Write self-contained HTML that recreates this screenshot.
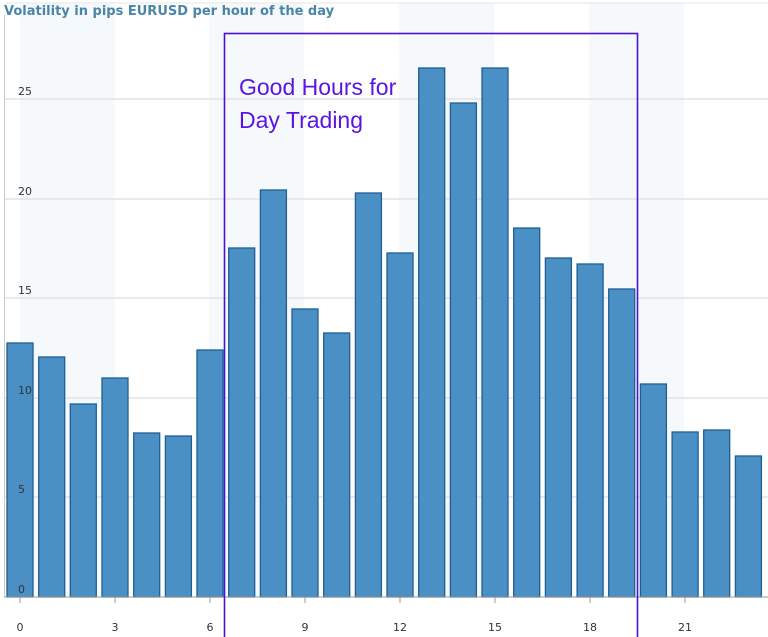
<!DOCTYPE html><html><head><style>body{margin:0;background:#fff}</style></head><body>
<svg width="768" height="637" xmlns="http://www.w3.org/2000/svg" style="display:block">
<rect width="768" height="637" fill="#fff"/>
<g fill="#f6f9fc">
<rect x="20" y="3" width="95" height="594"/>
<rect x="209" y="3" width="95" height="594"/>
<rect x="399" y="3" width="95" height="594"/>
<rect x="589" y="3" width="95" height="594"/>
</g>
<line x1="4" y1="3" x2="768" y2="3" stroke="#e6e6e6"/>
<g stroke="#e3e3e3" stroke-width="1.5">
<line x1="4" y1="99" x2="768" y2="99"/><line x1="4" y1="199" x2="768" y2="199"/>
<line x1="4" y1="298" x2="768" y2="298"/><line x1="4" y1="398" x2="768" y2="398"/>
<line x1="4" y1="497" x2="768" y2="497"/>
</g>
<line x1="4.5" y1="15" x2="4.5" y2="597" stroke="#ccc"/>
<g fill="#4a90c4" stroke="#1f5f96" stroke-width="1.3">
<rect x="7" y="343" width="26" height="254"/>
<rect x="38.7" y="357" width="26" height="240"/>
<rect x="70.3" y="404" width="26" height="193"/>
<rect x="102" y="378" width="26" height="219"/>
<rect x="133.7" y="433" width="26" height="164"/>
<rect x="165.4" y="436" width="26" height="161"/>
<rect x="197" y="350" width="26" height="247"/>
<rect x="228.7" y="248" width="26" height="349"/>
<rect x="260.4" y="190" width="26" height="407"/>
<rect x="292" y="309" width="26" height="288"/>
<rect x="323.7" y="333" width="26" height="264"/>
<rect x="355.4" y="193" width="26" height="404"/>
<rect x="387" y="253" width="26" height="344"/>
<rect x="418.7" y="68" width="26" height="529"/>
<rect x="450.4" y="103" width="26" height="494"/>
<rect x="482" y="68" width="26" height="529"/>
<rect x="513.7" y="228" width="26" height="369"/>
<rect x="545.4" y="258" width="26" height="339"/>
<rect x="577.1" y="264" width="26" height="333"/>
<rect x="608.7" y="289" width="26" height="308"/>
<rect x="640.4" y="384" width="26" height="213"/>
<rect x="672.1" y="432" width="26" height="165"/>
<rect x="703.7" y="430" width="26" height="167"/>
<rect x="735.4" y="456" width="26" height="141"/>
</g>
<line x1="4" y1="597" x2="768" y2="597" stroke="#999"/>
<g font-family="DejaVu Sans, sans-serif" font-size="11" fill="#333">
<text x="18" y="95">25</text><text x="18" y="195">20</text><text x="18" y="294">15</text>
<text x="18" y="394">10</text><text x="18" y="493">5</text><text x="18" y="593">0</text>
</g>
<g stroke="#999">
<line x1="20" y1="597" x2="20" y2="603"/><line x1="115" y1="597" x2="115" y2="603"/>
<line x1="210" y1="597" x2="210" y2="603"/><line x1="305" y1="597" x2="305" y2="603"/>
<line x1="400" y1="597" x2="400" y2="603"/><line x1="495" y1="597" x2="495" y2="603"/>
<line x1="590" y1="597" x2="590" y2="603"/><line x1="685" y1="597" x2="685" y2="603"/>
</g>
<g font-family="DejaVu Sans, sans-serif" font-size="11" fill="#333" text-anchor="middle">
<text x="20" y="631">0</text><text x="115" y="631">3</text><text x="210" y="631">6</text>
<text x="305" y="631">9</text><text x="400" y="631">12</text><text x="495" y="631">15</text>
<text x="590" y="631">18</text><text x="685" y="631">21</text>
</g>
<text x="4" y="15" font-family="DejaVu Sans, sans-serif" font-weight="bold" font-size="13" fill="#4a85a8">Volatility in pips EURUSD per hour of the day</text>
<rect x="224.5" y="33.5" width="413" height="610" fill="none" stroke="#4b12d0" stroke-width="1.6"/>
<g font-family="Liberation Sans, sans-serif" font-size="23" fill="#5a16e0">
<text x="239" y="95">Good Hours for</text><text x="239" y="128">Day Trading</text>
</g>
</svg></body></html>
